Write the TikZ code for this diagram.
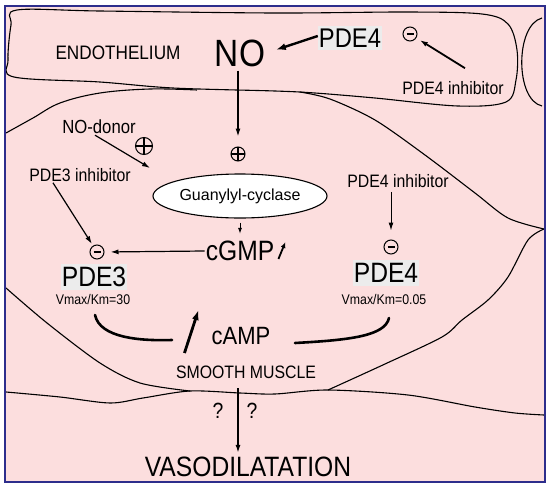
\documentclass[tikz,border=0pt]{standalone}
\usepackage{fontspec}
\setmainfont{Liberation Sans}[FakeStretch=0.88]
\newfontfamily\widesf{Liberation Sans}
\usetikzlibrary{arrows.meta,positioning,shapes.geometric,calc}
\definecolor{cellpink}{RGB}{252,222,222}
\definecolor{pdegray}{RGB}{236,236,236}
\definecolor{framenavy}{RGB}{45,45,140}
\newcommand{\fsz}[1]{\fontsize{#1}{#1}\selectfont}
\tikzset{
  txt/.style={inner sep=1pt, font=\fsz{18}},
  bigtxt/.style={inner sep=1pt, font=\fsz{28}},
  pdebox/.style={fill=pdegray, inner xsep=1pt, inner ysep=3pt, font=\fsz{28}},
  kin/.style={inner sep=1pt, font=\fsz{14}},
  negc/.style={circle, draw, line width=1pt, minimum size=14pt, inner sep=0pt, path picture={\draw[line width=1.2pt] ([xshift=-3.5pt]path picture bounding box.center) -- ([xshift=3.5pt]path picture bounding box.center);}},
  posc/.style={circle, draw, line width=1pt, minimum size=14pt, inner sep=0pt, path picture={\draw[line width=1.1pt] (path picture bounding box.west) -- (path picture bounding box.east) (path picture bounding box.north) -- (path picture bounding box.south);}},
  arr/.style={-{Latex[length=8pt,width=5pt]}, line width=1.2pt},
  harr/.style={-{Latex[length=10pt,width=7pt]}, line width=2.4pt},
  bow/.style={line width=2.6pt, line cap=round},
  memb/.style={line width=1.1pt},
}
\begin{document}
\begin{tikzpicture}[x=1pt,y=-1pt]
\useasboundingbox (0,0) rectangle (550,488);
\fill[cellpink] (5,6) rectangle (545,482);
% cell outlines
\draw[memb] plot[smooth cycle, tension=0.55] coordinates {(17,10) (100,11) (275,13) (408,12) (482,14) (508,24) (517,50) (516,80) (506,102) (458,106) (375,98) (315,93) (275,91) (173,88) (100,82) (14,77) (8,60) (11,25)};
\draw[memb] (542,18) .. controls (515,25) and (515,100) .. (542,106);
\draw[memb] plot[smooth, tension=0.6] coordinates {(6,133) (33,118) (60,103) (100,93) (150,89) (197,90)};
\draw[memb] plot[smooth] coordinates {(300,92) (330,99) (375,120) (425,155) (475,193) (508,218) (544,229)};
\draw[memb] plot[smooth] coordinates {(544,229) (528,240) (508,277) (488,300) (462,320) (442,337) (385,364) (328,390)};
\draw[memb] plot[smooth] coordinates {(6,392) (60,397) (110,403) (143,398) (190,391) (240,393) (275,394) (328,390) (408,395) (475,407) (515,413) (544,415)};
\draw[memb] plot[smooth] coordinates {(6,288) (47,323) (100,363) (140,383) (190,391)};
\draw[framenavy, line width=1.2pt] (5,6) rectangle (545,482);

% labels
\node[txt, font=\fsz{19.5}] (endo) at (118,53) {ENDOTHELIUM};
\node[inner sep=1pt, font=\fsz{38}] (no) at (240,53) {NO};
\node[pdebox, font=\fsz{27}] (pdeT) at (350,38) {PDE4};
\node[negc] (negT) at (410,34) {};
\node[txt] (inhT) at (453,88) {PDE4 inhibitor};
\node[txt, font=\fsz{19}] (donor) at (99,127) {NO-donor};
\node[posc, minimum size=17pt] (posD) at (144,146) {};
\node[posc] (posN) at (238,154) {};
\node[txt] (inh3) at (80,175) {PDE3 inhibitor};
\node[txt] (inh4) at (398,181) {PDE4 inhibitor};
\node[ellipse, draw, fill=white, line width=1.1pt, minimum width=174pt, minimum height=44pt, inner sep=0pt, font=\widesf\fsz{16}] (gc) at (240,196) {Guanylyl-cyclase};
\node[bigtxt] (cgmp) at (240,251) {cGMP};
\node[negc] (neg3) at (97,252) {};
\node[negc] (neg4) at (391,247) {};
\node[pdebox] (pde3) at (94,277) {PDE3};
\node[pdebox] (pde4) at (386,273) {PDE4};
\node[kin] (vm3) at (93,299) {Vmax/Km=30};
\node[kin] (vm4) at (384,299) {Vmax/Km=0.05};
\node[inner sep=1pt, font=\fsz{25}] (camp) at (241,336) {cAMP};
\node[txt] (sm) at (246,372) {SMOOTH MUSCLE};
\node[inner sep=1pt, font=\fsz{22}] (q1) at (218,411) {?};
\node[inner sep=1pt, font=\fsz{22}] (q2) at (252,411) {?};
\node[bigtxt] (vaso) at (248,467) {VASODILATATION};

% connectors
\coordinate (donorend) at (150,168);
\coordinate (dstart) at (238,388);
\draw[harr, shorten >=10pt] ([yshift=2pt]pdeT.west) -- (no.east);
\draw[arr, line width=1.8pt, shorten >=4pt] ([xshift=12pt,yshift=12pt]inhT.north) -- (negT);
\draw[arr, shorten <=3pt, shorten >=10pt] (posN |- no.south) -- (posN.north);
\draw[arr] ([xshift=-4pt]donor.south) -- (donorend);
\draw[arr, shorten >=2pt] ([xshift=-27pt]inh3.south) -- (neg3);
\draw[arr, line width=1pt, -{Latex[length=6pt,width=4pt]}, shorten <=4pt, shorten >=6pt] (gc.south) -- (cgmp.north);
\draw[arr, shorten >=6pt] (cgmp.west) -- (neg3.east);
\draw[arr, line width=1pt, shorten <=3pt, shorten >=9pt] (neg4 |- inh4.south) -- (neg4.north);
\draw[-{Latex[length=6pt,width=5pt]}, line width=1.8pt] ([xshift=3pt,yshift=-8pt]cgmp.east) -- ([xshift=10pt,yshift=9pt]cgmp.east);
\draw[harr, line width=2.8pt] ([xshift=-26pt,yshift=-17pt]camp.west) -- ([xshift=-12pt,yshift=26pt]camp.west);
\draw[bow] (95,315) .. controls (100,338) and (140,341) .. (172,340);
\draw[bow] (295,343) .. controls (350,340) and (385,336) .. (389,318);
\draw[arr, line width=1.5pt, shorten >=3pt] (dstart) -- (dstart |- vaso.north);
\end{tikzpicture}
\end{document}
